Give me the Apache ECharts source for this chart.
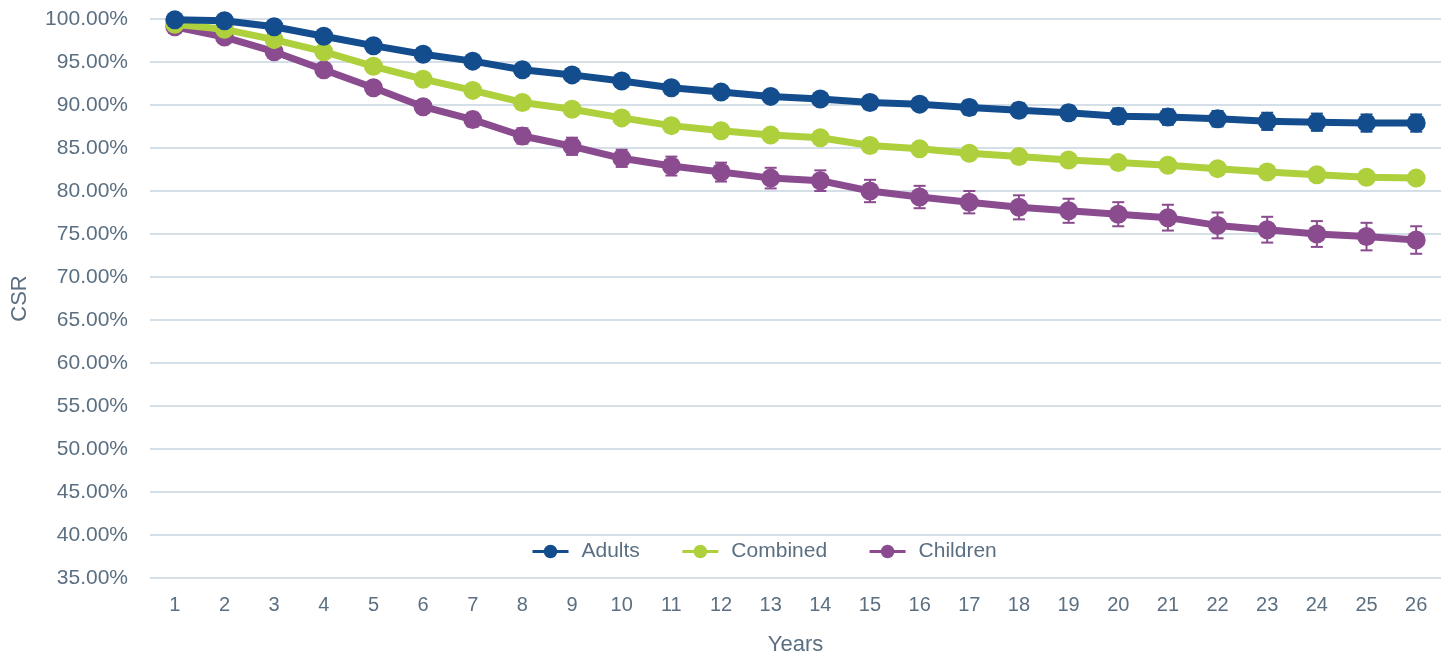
<!DOCTYPE html>
<html>
<head>
<meta charset="utf-8">
<script src="https://cdn.jsdelivr.net/npm/echarts@6/dist/echarts.min.js"></script>
<style>
html,body{margin:0;padding:0;background:#fff;}
#chart{width:1444px;height:658px;}
</style>
</head>
<body>
<div id="chart"></div>
<script>
var years=['1','2','3','4','5','6','7','8','9','10','11','12','13','14','15','16','17','18','19','20','21','22','23','24','25','26'];
var adults=[99.9,99.8,99.1,98.0,96.9,95.9,95.1,94.1,93.5,92.8,92.0,91.5,91.0,90.7,90.3,90.1,89.7,89.4,89.1,88.7,88.6,88.4,88.1,88.0,87.9,87.9];
var combined=[99.4,98.8,97.6,96.2,94.5,93.0,91.7,90.3,89.5,88.5,87.6,87.0,86.5,86.2,85.3,84.9,84.4,84.0,83.6,83.3,83.0,82.6,82.2,81.9,81.6,81.5];
var children=[99.1,97.9,96.2,94.1,92.0,89.8,88.3,86.4,85.2,83.8,82.9,82.2,81.5,81.2,80.0,79.3,78.7,78.1,77.7,77.3,76.9,76.0,75.5,75.0,74.7,74.3];
// half width of the error bars, in percentage points
var adultsErr=[0.1,0.1,0.2,0.2,0.3,0.3,0.4,0.4,0.5,0.5,0.5,0.6,0.6,0.7,0.7,0.7,0.8,0.8,0.8,0.9,0.9,0.9,1.0,1.0,1.0,1.0];
var combinedErr=[0.1,0.1,0.1,0.2,0.2,0.2,0.3,0.3,0.3,0.3,0.4,0.4,0.4,0.4,0.5,0.5,0.5,0.5,0.5,0.6,0.6,0.6,0.6,0.6,0.6,0.6];
var childrenErr=[0.2,0.3,0.4,0.5,0.6,0.7,0.8,0.9,1.0,1.0,1.1,1.1,1.2,1.2,1.3,1.3,1.3,1.4,1.4,1.4,1.5,1.5,1.5,1.5,1.6,1.6];

var textColor='#5b6f82';
var gridColor='#d5dfe7';
var colors={Adults:'#134d8e',Combined:'#aed03d',Children:'#8a4b8f'};

var chart=echarts.init(document.getElementById('chart'));

function errData(vals,errs){
    return vals.map(function(v,i){return [i,v-errs[i],v+errs[i]];});
}
function errSeries(name,vals,errs,z){
    return {
        type:'custom',
        name:name+' error',
        z:z,
        silent:true,
        data:errData(vals,errs),
        renderItem:function(params,api){
            var lo=api.coord([api.value(0),api.value(1)]);
            var hi=api.coord([api.value(0),api.value(2)]);
            var w=6;
            var style={stroke:colors[name],lineWidth:2};
            return {type:'group',children:[
                {type:'line',shape:{x1:lo[0],y1:lo[1],x2:hi[0],y2:hi[1]},style:style},
                {type:'line',shape:{x1:lo[0]-w,y1:lo[1],x2:lo[0]+w,y2:lo[1]},style:style},
                {type:'line',shape:{x1:hi[0]-w,y1:hi[1],x2:hi[0]+w,y2:hi[1]},style:style}
            ]};
        }
    };
}
function lineSeries(name,vals,z){
    return {
        type:'line',
        name:name,
        z:z,
        data:vals,
        symbol:'circle',
        symbolSize:19,
        lineStyle:{width:7,color:colors[name]},
        itemStyle:{color:colors[name]}
    };
}

var option={
    animation:false,
    textStyle:{fontFamily:'Liberation Sans'},
    grid:{left:150,right:3,top:19,bottom:80,outerBoundsMode:'none'},
    legend:{
        data:['Adults','Combined','Children'],
        top:536,
        left:526,
        itemGap:41,
        itemWidth:36,
        itemHeight:17,
        lineStyle:{width:3},
        textStyle:{color:textColor,fontSize:21,fontFamily:'Liberation Sans',padding:[0,0,0,8]}
    },
    xAxis:{
        type:'category',
        data:years,
        name:'Years',
        nameLocation:'middle',
        nameGap:67,
        nameTextStyle:{color:textColor,fontSize:22,verticalAlign:'middle'},
        axisLine:{show:false},
        axisTick:{show:false},
        axisLabel:{color:textColor,fontSize:20,margin:17}
    },
    yAxis:{
        type:'value',
        min:35,
        max:100,
        interval:5,
        name:'CSR',
        nameLocation:'middle',
        nameGap:130,
        nameTextStyle:{color:textColor,fontSize:22,verticalAlign:'middle'},
        axisLine:{show:false},
        axisTick:{show:false},
        axisLabel:{color:textColor,fontSize:21,margin:22,formatter:function(v){return v.toFixed(2)+'%';}},
        splitLine:{lineStyle:{color:gridColor,width:2}}
    },
    series:[
        errSeries('Children',children,childrenErr,1),
        lineSeries('Children',children,2),
        errSeries('Combined',combined,combinedErr,3),
        lineSeries('Combined',combined,4),
        errSeries('Adults',adults,adultsErr,5),
        lineSeries('Adults',adults,6)
    ]
};
chart.setOption(option);
</script>
</body>
</html>
